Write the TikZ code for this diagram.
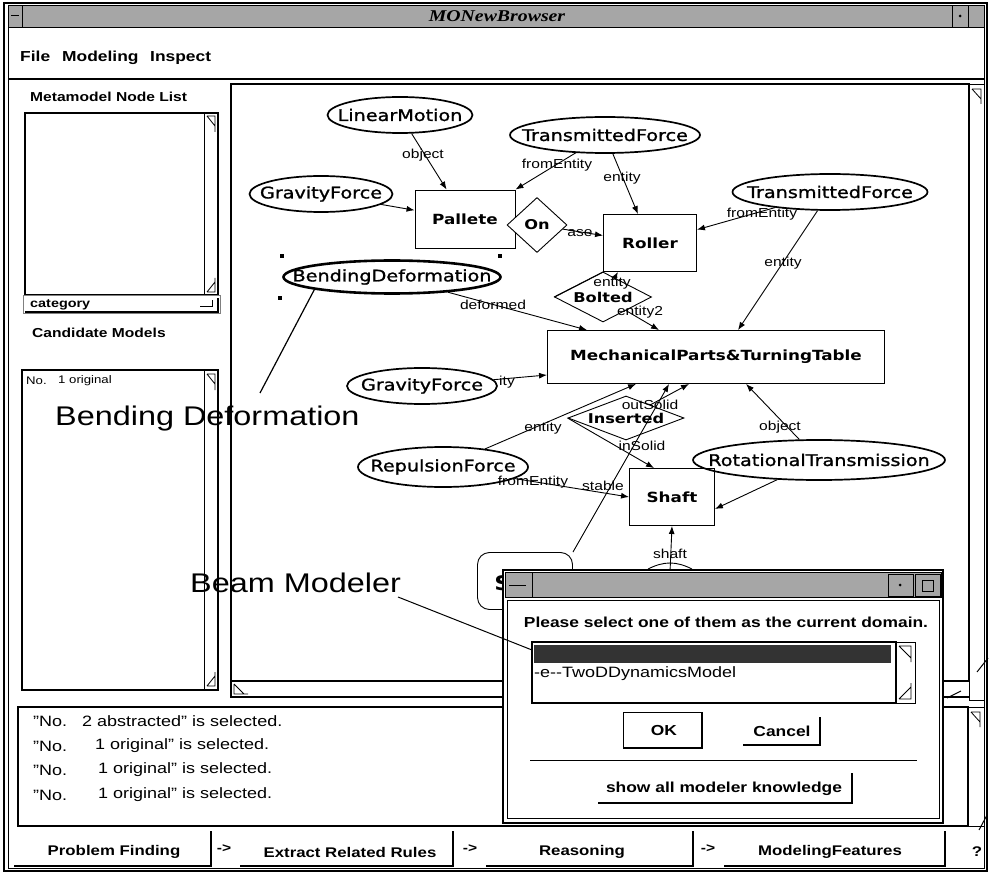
\documentclass[tikz,border=0pt]{standalone}
\usepackage{fontspec}
\setmainfont{Liberation Sans}[FakeStretch=1.2]
\newfontfamily\nodefont{DejaVu Sans}[FakeStretch=1.2]
\newfontfamily\ellfont{DejaVu Sans}[FakeStretch=1.2, FakeBold=1.2]
\newfontfamily\ttlfont{Liberation Serif}[FakeStretch=1.2]
\usetikzlibrary{shapes.geometric,arrows.meta}
\begin{document}
\begin{tikzpicture}[x=1pt,y=-1pt,
  ui/.style={font=\fontsize{13}{15}\selectfont\bfseries, inner sep=0pt},
  menu/.style={font=\fontsize{14.5}{16}\selectfont\bfseries, inner sep=0pt, anchor=base west},
  dlg/.style={font=\fontsize{14.5}{16}\selectfont\bfseries, inner sep=0pt},
  msg/.style={font=\fontsize{15}{17}\selectfont, inner sep=0pt, anchor=west},
  ell/.style={draw, ellipse, line width=1.7pt, inner sep=0pt, minimum height=36},
  elltxt/.style={font=\ellfont\fontsize{16}{18}\selectfont, inner sep=0pt},
  ent/.style={draw, line width=0.9pt, rectangle, font=\nodefont\bfseries\fontsize{14}{16}\selectfont, inner sep=0pt},
  rel/.style={draw, diamond, line width=0.9pt, inner sep=0pt},
  reltxt/.style={font=\nodefont\bfseries\fontsize{13.5}{15}\selectfont, inner sep=0pt},
  arr/.style={line width=0.9pt, -{Latex[length=8pt,width=6pt]}},
  ln/.style={line width=0.9pt},
  lbl/.style={font=\fontsize{13}{15}\selectfont, inner sep=0pt},
  big/.style={font=\fontsize{27}{30}\selectfont, inner sep=0pt, anchor=base west},
  frame/.style={line width=1.3pt},
  shadowbtn/.style={line width=1.3pt},
  bbtn/.style={font=\fontsize{14}{16}\selectfont\bfseries, inner sep=0pt}
]
\useasboundingbox (0,0) rectangle (990,874);
\fill[white] (0,0) rectangle (990,874);

% ---------- main window frame ----------
\draw[line width=1.5pt] (4,3) rectangle (987,871);
\draw[line width=0.6pt] (8,5) rectangle (984,868);
\fill[black!35] (8,5) rectangle (984,27);
\draw[line width=0.8pt] (8,5) rectangle (984,27);
\draw[line width=0.8pt] (8,5) rectangle (22,27);
\draw[line width=1pt] (11,16) -- (19,16);
\draw[line width=0.8pt] (952,5) rectangle (968,27);
\fill (960,16) circle (1.5);
\draw[line width=0.8pt] (968,5) rectangle (984,27);
\node[font=\ttlfont\bfseries\itshape\fontsize{16.5}{18}\selectfont, inner sep=0pt] (title) at (497,16) {MONewBrowser};

% ---------- menu ----------
\node[menu] (mfile) at (20,62) {File};
\node[menu] (mmod) at (62,62) {Modeling};
\node[menu] (mins) at (150,62) {Inspect};
\draw[line width=1.3pt] (8,79) -- (984,79);

% ---------- left panel ----------
\node[ui, anchor=west] (mnl) at (30,97) {Metamodel Node List};
\draw[frame] (25,113) rectangle (218,295);
\draw[line width=0.8pt] (204,113) -- (204,295);
\draw[line width=0.8pt] (207,116) -- (215,116) -- (215,132) (207,116) -- (215,126);
\draw[line width=0.8pt] (207,292) -- (215,292) -- (215,278) (207,292) -- (215,282);
\draw[black!50, line width=1pt] (23,296) rectangle (220,314);
\draw[line width=1.2pt] (25,312) -- (218,312) -- (218,298);
\node[ui, anchor=west, font=\fontsize{12}{14}\selectfont\bfseries] (cat) at (30,305) {category};
\draw[line width=1pt] (200,307) -- (212,307) -- (212,300);
\node[ui, anchor=west] (cm) at (32,333) {Candidate Models};
\draw[frame] (22,370) rectangle (218,690);
\draw[line width=0.8pt] (204,370) -- (204,690);
\draw[line width=0.8pt] (207,374) -- (215,374) -- (215,390) (207,374) -- (215,384);
\draw[line width=0.8pt] (207,686) -- (215,686) -- (215,672) (207,686) -- (215,676);
\node[msg, font=\fontsize{11}{13}\selectfont] (no1) at (26,381) {No.};
\node[msg, font=\fontsize{11}{13}\selectfont] (orig) at (58,381) {1 original};

% ---------- canvas ----------
\draw[line width=1.4pt] (231,84) rectangle (969,681);
\draw[line width=0.8pt] (969,84) rectangle (984,700);
\draw[line width=0.8pt] (972,89) -- (981,89) -- (981,104) (972,89) -- (981,99);
\draw[line width=1.2pt] (231,681) -- (231,697) -- (969,697);
\draw[line width=0.8pt] (234,684) -- (234,694) -- (248,694) (234,684) -- (244,694);

% ---------- message area ----------
\draw[frame] (18,707) rectangle (968,826);
\draw[line width=0.8pt] (968,707) rectangle (984,826);
\draw[line width=0.8pt] (971,712) -- (980,712) -- (980,727) (971,712) -- (980,722);
\node[msg] (m1a) at (33,721) {"No.};
\node[msg] (m1b) at (82,721) {2 abstracted" is selected.};
\node[msg] (m2a) at (33,746) {"No.};
\node[msg] (m2b) at (95,746) {1 original" is selected.};
\node[msg] (m3a) at (33,770) {"No.};
\node[msg] (m3b) at (98,770) {1 original" is selected.};
\node[msg] (m4a) at (33,795) {"No.};
\node[msg] (m4b) at (98,795) {1 original" is selected.};

% ---------- bottom buttons ----------
\node[bbtn] (b1) at (114,852) {Problem Finding};
\draw[shadowbtn] (14,866) -- (211,866) -- (211,831);
\node[ui] (a1) at (224,849) {->};
\node[bbtn] (b2) at (350,852) {Extract Related Rules};
\draw[shadowbtn] (240,866) -- (453,866) -- (453,831);
\node[ui] (a2) at (470,849) {->};
\node[bbtn] (b3) at (582,852) {Reasoning};
\draw[shadowbtn] (486,866) -- (693,866) -- (693,831);
\node[ui] (a3) at (708,849) {->};
\node[bbtn] (b4) at (830,852) {ModelingFeatures};
\draw[shadowbtn] (724,866) -- (945,866) -- (945,831);
\node[bbtn] (b5) at (977,852) {?};

% ---------- graph nodes ----------
\node[ell, minimum width=145, label={[elltxt]center:LinearMotion}] (lm) at (400,115) {};
\node[ell, minimum width=190, label={[elltxt]center:TransmittedForce}] (tf1) at (605,135) {};
\node[ell, minimum width=143, label={[elltxt]center:GravityForce}] (gf1) at (321,194) {};
\node[ent, minimum width=100, minimum height=58] (pal) at (465,219) {Pallete};
\node[rel, minimum width=60, minimum height=55, fill=white, label={[reltxt]center:On}] (on) at (537,225) {};
\node[ent, minimum width=93, minimum height=57] (rol) at (650,243) {Roller};
\node[ell, minimum width=195, label={[elltxt]center:TransmittedForce}] (tf2) at (830,192) {};
\node[ell, minimum width=217, minimum height=33, line width=2.6pt, label={[elltxt]center:BendingDeformation}] (bd) at (392,277) {};
\node[rel, minimum width=97, minimum height=50, label={[reltxt]center:Bolted}] (bol) at (603,297) {};
\node[ent, minimum width=337, minimum height=53] (mech) at (716,357) {MechanicalParts\&TurningTable};
\node[ell, minimum width=150, label={[elltxt]center:GravityForce}] (gf2) at (422,386) {};
\node[rel, minimum width=116, minimum height=44, label={[reltxt]center:Inserted}] (ins) at (626,418) {};
\node[ell, minimum width=170, minimum height=40, label={[elltxt]center:RepulsionForce}] (rep) at (443,467) {};
\node[ell, minimum width=252, minimum height=40, label={[elltxt]center:RotationalTransmission}] (rt) at (819,460) {};
\node[ent, minimum width=85, minimum height=57] (sh) at (672,497) {Shaft};
\node[draw, rounded corners=12pt, line width=0.9pt, minimum width=95, minimum height=57, inner sep=0pt] (sbox) at (525,581) {};
\node[font=\nodefont\bfseries\fontsize{20}{22}\selectfont, inner sep=0pt] (stxt) at (503,583) {S};
\coordinate (hid) at (670,572);

% selection handles
\fill (280,254) rectangle (284,258);
\fill (498,254) rectangle (502,258);
\fill (278,296) rectangle (282,300);

% ---------- graph edges ----------
\draw[arr] (lm) -- (pal);
\draw[arr] (tf1) -- (pal.north east);
\draw[arr] (tf1) -- (rol);
\draw[arr] (gf1) -- (pal);
\draw[arr] (on) -- (rol);
\draw[arr] (tf2) -- (rol);
\draw[arr] (tf2) -- ([xshift=22pt]mech.north);
\draw[arr] (bd) -- ([xshift=40pt]mech.north west);
\draw[arr] (bol) -- ([xshift=-32pt]rol.south);
\draw[arr] (bol) -- ([xshift=112pt]mech.north west);
\draw[ln] (rol.south west) -- (bol.west);
\draw[arr] (gf2) -- ([yshift=-18pt]mech.west);
\draw[arr] (rep) -- ([xshift=89pt]mech.south west);
\draw[arr] (ins) -- ([xshift=142pt]mech.south west);
\draw[arr] (ins.west) -- ([xshift=25pt]sh.north west);
\draw[arr] (sbox.north east) -- ([xshift=122pt]mech.south west);
\draw[arr] (rep) -- (sh.west);
\draw[arr] (rt) -- ([xshift=199pt]mech.south west);
\draw[arr] (rt) -- ([yshift=-12pt]sh.east);
\draw[arr] (hid) -- (sh.south);
\draw[ln] (648,569) .. controls (656,565) and (663,563) .. (670,563);
\draw[ln] (692,569) .. controls (684,565) and (677,563) .. (670,563);

% ---------- edge labels ----------
\node[lbl] (l1) at (423,155) {object};
\node[lbl] (l2) at (557,165) {fromEntity};
\node[lbl] (l3) at (622,178) {entity};
\node[lbl] (l4) at (580,233) {ase};
\node[lbl] (l5) at (762,214) {fromEntity};
\node[lbl] (l6) at (783,263) {entity};
\node[lbl] (l7) at (493,305) {deformed};
\node[lbl] (l8) at (612,283) {entity};
\node[lbl] (l9) at (640,312) {entity2};
\node[lbl] (l10) at (507,382) {ity};
\node[lbl] (l11) at (543,428) {entity};
\node[lbl] (l12) at (650,405) {outSolid};
\node[lbl] (l13) at (642,446) {inSolid};
\node[lbl] (l14) at (780,427) {object};
\node[lbl] (l15) at (533,482) {fromEntity};
\node[lbl] (l16) at (603,486) {stable};
\node[lbl] (l17) at (670,554) {shaft};

% ---------- dialog ----------
\filldraw[fill=white, line width=1.3pt] (503,570) rectangle (943,823);
\fill[black!35] (505,572) rectangle (941,597);
\draw[line width=0.8pt] (505,572) rectangle (941,597);
\draw[line width=0.8pt] (505,572) rectangle (532,597);
\draw[line width=1pt] (509,585) -- (526,585);
\draw[line width=0.8pt] (888,574) rectangle (913,596);
\fill (900,585) circle (1.5);
\draw[line width=0.8pt] (915,574) rectangle (940,596);
\draw[line width=0.8pt] (922,580) rectangle (933,591);
\draw[line width=0.6pt] (507,600) rectangle (939,818);
\node[dlg] (q) at (726,622) {Please select one of them as the current domain.};
\draw[frame] (532,642) rectangle (896,703);
\fill[black!80] (534,645) rectangle (891,663);
\node[msg, font=\fontsize{15}{17}\selectfont] (dm) at (534,674) {-e{-}{-}TwoDDynamicsModel};
\draw[line width=0.8pt] (896,642) rectangle (915,703);
\draw[line width=0.8pt] (899,646) -- (911,646) -- (911,662) (899,646) -- (911,658);
\draw[line width=0.8pt] (899,699) -- (911,699) -- (911,683) (899,699) -- (911,687);
\draw[line width=0.6pt] (623,748) -- (623,712) -- (702,712);
\draw[shadowbtn] (623,748) -- (702,748) -- (702,712);
\node[dlg] (ok) at (664,731) {OK};
\draw[shadowbtn] (743,745) -- (820,745) -- (820,717);
\node[dlg] (cancel) at (782,731) {Cancel};
\draw[line width=1pt] (530,760) -- (917,760);
\draw[shadowbtn] (598,803) -- (852,803) -- (852,773);
\node[dlg] (show) at (724,789) {show all modeler knowledge};

% scratches at the right edge
\draw[line width=1pt] (947,698) -- (961,691);
\draw[line width=1pt] (977,672) -- (988,658);
\draw[line width=1pt] (979,830) -- (987,815);

% ---------- annotations ----------
\node[big] (ann1) at (55,425) {Bending Deformation};
\node[big] (ann2) at (190,592) {Beam Modeler};
\draw[line width=1.2pt] (260,393) -- (bd.south west);
\draw[line width=1pt] (398,597) -- (532,650);
\end{tikzpicture}
\end{document}
